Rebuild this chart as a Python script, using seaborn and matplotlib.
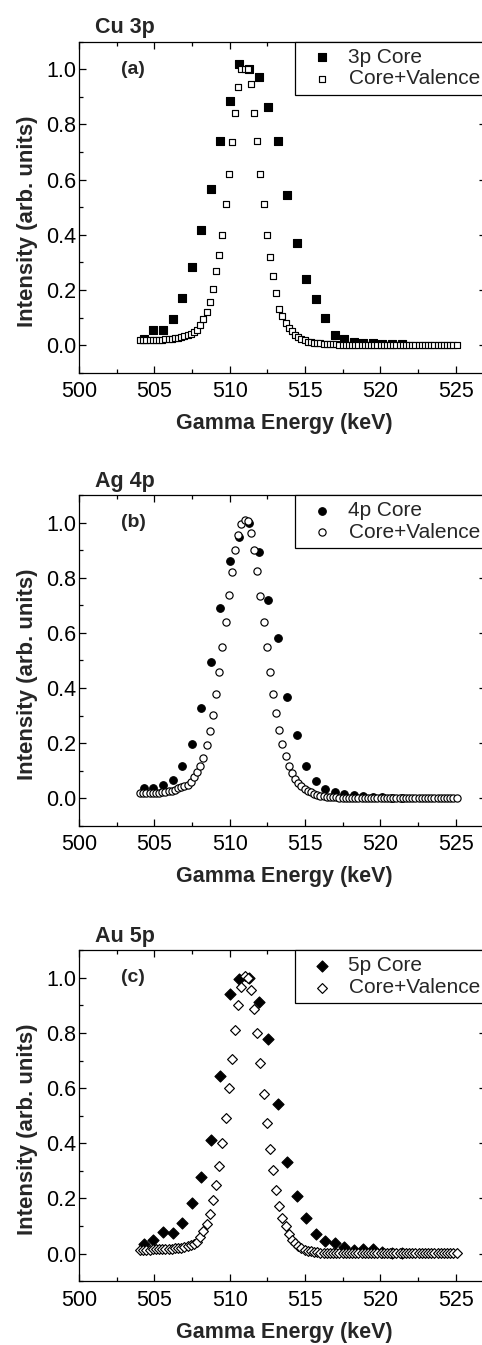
import numpy as np
import pandas as pd
import matplotlib
matplotlib.use("Agg")
import matplotlib.pyplot as plt
from matplotlib.ticker import MultipleLocator, FormatStrFormatter
import seaborn as sns

# ---------------- data ----------------
energy_core = [504.31, 504.94, 505.58, 506.21, 506.84, 507.48, 508.11, 508.74, 509.37, 510.01,
               510.64, 511.27, 511.91, 512.54, 513.17, 513.80, 514.44, 515.07, 515.70, 516.34,
               516.97, 517.60, 518.24, 518.87, 519.50, 520.13, 520.77, 521.40]

energy_cv = [504.05, 504.26, 504.47, 504.68, 504.89, 505.10, 505.31, 505.52, 505.73, 505.94,
             506.15, 506.36, 506.57, 506.78, 506.99, 507.20, 507.41, 507.62, 507.83, 508.04,
             508.25, 508.46, 508.67, 508.88, 509.09, 509.30, 509.51, 509.72, 509.93, 510.14,
             510.35, 510.56, 510.77, 510.98, 511.19, 511.40, 511.61, 511.82, 512.03, 512.24,
             512.45, 512.66, 512.87, 513.08, 513.29, 513.50, 513.71, 513.92, 514.13, 514.34,
             514.55, 514.76, 514.97, 515.18, 515.39, 515.60, 515.81, 516.02, 516.23, 516.44,
             516.65, 516.86, 517.07, 517.28, 517.49, 517.70, 517.91, 518.12, 518.33, 518.54,
             518.75, 518.96, 519.17, 519.38, 519.59, 519.80, 520.01, 520.22, 520.43, 520.64,
             520.85, 521.06, 521.27, 521.48, 521.69, 521.90, 522.11, 522.32, 522.53, 522.74,
             522.95, 523.16, 523.37, 523.58, 523.79, 524.00, 524.21, 524.42, 524.63, 524.84,
             525.05]

cu_core = [0.023, 0.053, 0.056, 0.095, 0.169, 0.282, 0.417, 0.566, 0.741, 0.884,
           1.018, 1.000, 0.971, 0.863, 0.740, 0.543, 0.369, 0.240, 0.166, 0.100,
           0.036, 0.023, 0.013, 0.009, 0.007, 0.005, 0.004, 0.003]

cu_cv = [0.017, 0.017, 0.017, 0.018, 0.018, 0.019, 0.019, 0.020, 0.021, 0.022,
         0.023, 0.025, 0.027, 0.030, 0.033, 0.037, 0.041, 0.046, 0.056, 0.072,
         0.093, 0.120, 0.156, 0.205, 0.268, 0.327, 0.400, 0.510, 0.622, 0.735,
         0.843, 0.937, 1.000, 1.000, 1.000, 0.945, 0.843, 0.740, 0.620, 0.510,
         0.400, 0.320, 0.250, 0.190, 0.130, 0.105, 0.080, 0.063, 0.050, 0.036,
         0.028, 0.022, 0.017, 0.013, 0.010, 0.008, 0.007, 0.006, 0.005, 0.004,
         0.004, 0.003, 0.003, 0.002, 0.002, 0.001, 0.001, 0.001, 0.001, 0.001,
         0.001, 0.001, 0.001, 0.001, 0.001, 0.001, 0.001, 0.001, 0.001, 0.001,
         0.001, 0.001, 0.001, 0.001, 0.001, 0.001, 0.001, 0.001, 0.001, 0.001,
         0.001, 0.001, 0.001, 0.001, 0.001, 0.001, 0.001, 0.001, 0.001, 0.001,
         0.001]

ag_core = [0.038, 0.038, 0.047, 0.065, 0.118, 0.196, 0.328, 0.495, 0.692, 0.860,
           0.946, 1.000, 0.894, 0.721, 0.583, 0.367, 0.229, 0.118, 0.064, 0.033,
           0.022, 0.016, 0.012, 0.009, 0.006, 0.004, 0.003, 0.002]

ag_cv = [0.018, 0.018, 0.019, 0.019, 0.020, 0.020, 0.021, 0.022, 0.024, 0.026,
         0.028, 0.032, 0.036, 0.040, 0.045, 0.050, 0.060, 0.078, 0.096, 0.118,
         0.148, 0.193, 0.244, 0.304, 0.378, 0.457, 0.548, 0.639, 0.736, 0.822,
         0.900, 0.955, 0.995, 1.010, 1.005, 0.962, 0.902, 0.823, 0.734, 0.640,
         0.547, 0.458, 0.380, 0.309, 0.247, 0.196, 0.153, 0.117, 0.093, 0.072,
         0.056, 0.044, 0.035, 0.028, 0.022, 0.017, 0.013, 0.010, 0.008, 0.006,
         0.005, 0.004, 0.004, 0.003, 0.003, 0.002, 0.002, 0.001, 0.001, 0.001,
         0.001, 0.001, 0.001, 0.001, 0.001, 0.001, 0.001, 0.001, 0.001, 0.001,
         0.001, 0.001, 0.001, 0.001, 0.001, 0.001, 0.001, 0.001, 0.001, 0.001,
         0.001, 0.001, 0.001, 0.001, 0.001, 0.001, 0.001, 0.001, 0.001, 0.001,
         0.001]

au_core = [0.036, 0.051, 0.078, 0.074, 0.112, 0.185, 0.278, 0.411, 0.644, 0.942,
           0.996, 1.000, 0.914, 0.778, 0.542, 0.334, 0.209, 0.129, 0.070, 0.047,
           0.039, 0.024, 0.014, 0.017, 0.017, 0.006, 0.004, 0.003]

au_cv = [0.015, 0.015, 0.015, 0.015, 0.016, 0.016, 0.016, 0.017, 0.017, 0.018,
         0.018, 0.019, 0.020, 0.021, 0.023, 0.026, 0.030, 0.036, 0.044, 0.060,
         0.082, 0.109, 0.145, 0.196, 0.250, 0.319, 0.400, 0.493, 0.602, 0.704,
         0.810, 0.900, 0.966, 1.008, 1.000, 0.955, 0.888, 0.800, 0.690, 0.580,
         0.475, 0.380, 0.302, 0.229, 0.171, 0.130, 0.099, 0.070, 0.050, 0.037,
         0.027, 0.020, 0.015, 0.011, 0.008, 0.006, 0.005, 0.004, 0.003, 0.003,
         0.002, 0.002, 0.001, 0.001, 0.001, 0.001, 0.001, 0.001, 0.001, 0.001,
         0.001, 0.001, 0.001, 0.001, 0.001, 0.001, 0.001, 0.001, 0.001, 0.001,
         0.001, 0.001, 0.001, 0.001, 0.001, 0.001, 0.001, 0.001, 0.001, 0.001,
         0.001, 0.001, 0.001, 0.001, 0.001, 0.001, 0.001, 0.001, 0.001, 0.001,
         0.001]

panel_titles = ["Cu 3p", "Ag 4p", "Au 5p"]
panel_tags = ["(a)", "(b)", "(c)"]
core_labels = ["3p Core", "4p Core", "5p Core"]
cv_label = "Core+Valence"
markers = ["s", "o", "D"]
core_series = [cu_core, ag_core, au_core]
cv_series = [cu_cv, ag_cv, au_cv]
xlabel = "Gamma Energy (keV)"
ylabel = "Intensity (arb. units)"

# ---------------- style ----------------
sns.set_style("ticks")
plt.rcParams["font.family"] = ["Liberation Sans", "DejaVu Sans"]
plt.rcParams["axes.linewidth"] = 0.9
plt.rcParams["xtick.direction"] = "in"
plt.rcParams["ytick.direction"] = "in"

fig = plt.figure(figsize=(4.82, 13.45), dpi=100)

left = 79 / 482
width = 407 / 482
bottoms = [0.7229, 0.3859, 0.0474]
height = 0.2461

core_size = [28, 30, 32]
cv_size = [25, 27, 25]

for i in range(3):
    ax = fig.add_axes([left, bottoms[i], width, height])
    df_core = pd.DataFrame({"E": energy_core, "I": core_series[i]})
    df_cv = pd.DataFrame({"E": energy_cv, "I": cv_series[i]})
    sns.scatterplot(data=df_core, x="E", y="I", ax=ax, marker=markers[i],
                    s=core_size[i], color="black", edgecolor="black",
                    linewidth=0.8, label=core_labels[i], zorder=2)
    sns.scatterplot(data=df_cv, x="E", y="I", ax=ax, marker=markers[i],
                    s=cv_size[i], color="white", edgecolor="black",
                    linewidth=0.85, label=cv_label, zorder=3)

    ax.set_xlim(500, 527)
    ax.set_ylim(-0.1, 1.1)
    ax.xaxis.set_major_locator(MultipleLocator(5))
    ax.xaxis.set_minor_locator(MultipleLocator(2.5))
    ax.yaxis.set_major_locator(MultipleLocator(0.2))
    ax.yaxis.set_minor_locator(MultipleLocator(0.1))
    ax.yaxis.set_major_formatter(FormatStrFormatter("%.1f"))
    ax.tick_params(which="both", direction="in", top=True, right=True,
                   width=0.9, labelsize=15.5, color="black", labelcolor="black")
    ax.tick_params(which="major", length=5)
    ax.tick_params(which="minor", length=3)
    ax.tick_params(axis="x", pad=6)
    ax.tick_params(axis="y", pad=2)
    for sp in ax.spines.values():
        sp.set_visible(True)
        sp.set_color("black")

    ax.set_xlabel(xlabel, fontsize=15.5, fontweight="bold")
    ax.set_ylabel(ylabel, fontsize=16, fontweight="bold")
    ax.xaxis.set_label_coords(0.505, -0.122)
    ax.yaxis.set_label_coords(-0.100, 0.458)

    ax.text(0.04, 1.025, panel_titles[i], transform=ax.transAxes,
            fontsize=15.5, fontweight="bold", ha="left", va="baseline")
    ax.text(502.8, 1.0, panel_tags[i], fontsize=14, fontweight="bold",
            ha="left", va="center")

    leg = ax.legend(loc="upper right", bbox_to_anchor=(1.0, 1.0),
                    borderaxespad=0, fontsize=15, frameon=True,
                    fancybox=False, framealpha=1, edgecolor="black",
                    borderpad=0.3, labelspacing=0.12, handlelength=2.0,
                    handletextpad=0.25, markerscale=1.0)
    leg.get_frame().set_linewidth(0.9)

fig.savefig("out.png", dpi=100)
